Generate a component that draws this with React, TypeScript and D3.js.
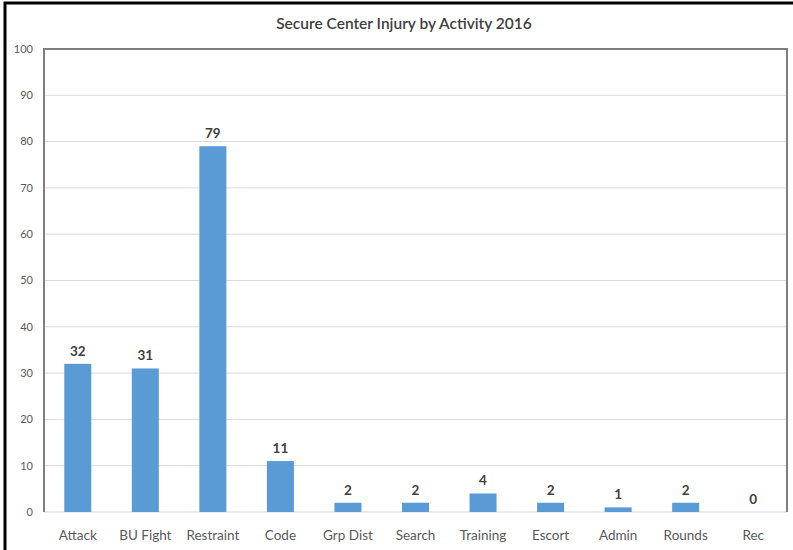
import React from 'react';
import * as d3 from 'd3';

const categories = ['Attack', 'BU Fight', 'Restraint', 'Code', 'Grp Dist', 'Search', 'Training', 'Escort', 'Admin', 'Rounds', 'Rec'];
const injuries = [32, 31, 79, 11, 2, 2, 4, 2, 1, 2, 0];
const yTicks = [0, 10, 20, 30, 40, 50, 60, 70, 80, 90, 100];

const W = 793;
const H = 550;
const left = 44;
const right = 787;
const top = 49;
const bottom = 512;
const font = 'Lato, "Open Sans", sans-serif';

const App = () => {
  const x = d3.scaleBand().domain(categories).range([left, right]).paddingInner(0.6).paddingOuter(0.3);
  const y = d3.scaleLinear().domain([0, 100]).range([bottom, top]);

  return (
    <svg width={W} height={H} style={{ position: 'absolute', left: 0, top: 0, background: '#fff' }}>
      <rect x={5} y={3} width={W + 10} height={H + 10} fill="#fff" stroke="#000" strokeWidth={3} />
      <text x={404} y={29} textAnchor="middle" fontFamily={font} fontSize={15.5} fontWeight={600} fill="#404040">
        Secure Center Injury by Activity 2016
      </text>
      {yTicks.map(t => (
        <g key={t}>
          {t > 0 && t < 100 && <line x1={left} x2={right} y1={y(t)} y2={y(t)} stroke="#d9d9d9" strokeWidth={1} />}
          <text x={33} y={y(t)} dy="0.35em" textAnchor="end" fontFamily={font} fontSize={11} fill="#595959">{t}</text>
        </g>
      ))}
      <line x1={left} x2={right} y1={bottom} y2={bottom} stroke="#d9d9d9" strokeWidth={1} />
      <path d={`M${left},${bottom} V${top} H${right} V${bottom}`} fill="none" stroke="#7f7f7f" strokeWidth={2} />
      {categories.map((c, i) => (
        <g key={c}>
          <rect x={x(c)} y={y(injuries[i])} width={x.bandwidth()} height={bottom - y(injuries[i])} fill="#5b9bd5" />
          <text x={x(c)! + x.bandwidth() / 2} y={y(injuries[i]) - 8} textAnchor="middle" fontFamily={font} fontSize={13.5} fontWeight={700} fill="#404040">
            {injuries[i]}
          </text>
          <text x={x(c)! + x.bandwidth() / 2} y={540} textAnchor="middle" fontFamily={font} fontSize={13.5} fill="#595959">{c}</text>
        </g>
      ))}
    </svg>
  );
};

export default App;
